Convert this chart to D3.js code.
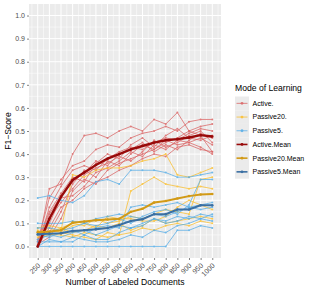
<!DOCTYPE html>
<html>
<head>
<meta charset="utf-8">
<script src="https://cdn.jsdelivr.net/npm/d3@7"></script>
<style>
  body { margin: 0; background: #fff; }
  text { font-family: "Liberation Sans", Arial, sans-serif; }
</style>
</head>
<body>
<div id="chart"></div>
<script>
// data
var docs = [250, 300, 350, 400, 450, 500, 550, 600, 650, 700, 750, 800, 850, 900, 950, 1000];
var yTicks = [0.0, 0.1, 0.2, 0.3, 0.4, 0.5, 0.6, 0.7, 0.8, 0.9, 1.0];
var modes = ["Active.", "Passive20.", "Passive5.", "Active.Mean", "Passive20.Mean", "Passive5.Mean"];

var activeRuns = [
  [0.00,0.25,0.27,0.40,0.48,0.49,0.47,0.50,0.52,0.50,0.55,0.53,0.58,0.50,0.52,0.53],
  [0.02,0.21,0.29,0.35,0.37,0.42,0.44,0.43,0.47,0.49,0.50,0.52,0.50,0.54,0.55,0.55],
  [0.00,0.17,0.26,0.33,0.35,0.33,0.38,0.41,0.43,0.42,0.45,0.47,0.46,0.49,0.51,0.50],
  [0.03,0.15,0.23,0.30,0.28,0.36,0.40,0.38,0.44,0.47,0.43,0.48,0.51,0.47,0.46,0.48],
  [0.00,0.12,0.19,0.25,0.31,0.34,0.36,0.39,0.37,0.41,0.46,0.43,0.45,0.48,0.50,0.45],
  [0.05,0.06,0.15,0.27,0.33,0.30,0.37,0.35,0.40,0.44,0.42,0.45,0.47,0.50,0.48,0.41],
  [0.00,0.10,0.21,0.22,0.26,0.32,0.34,0.37,0.41,0.39,0.44,0.42,0.46,0.45,0.43,0.40],
  [0.01,0.04,0.12,0.24,0.29,0.27,0.33,0.36,0.38,0.40,0.42,0.46,0.44,0.45,0.47,0.44],
  [0.00,0.08,0.17,0.20,0.25,0.28,0.30,0.33,0.35,0.38,0.40,0.39,0.43,0.44,0.42,0.41],
  [0.02,0.14,0.22,0.28,0.32,0.37,0.35,0.40,0.42,0.45,0.41,0.44,0.42,0.46,0.49,0.47]
];
var passive20Runs = [
  [0.06,0.06,0.07,0.31,0.30,0.33,0.34,0.34,0.35,0.37,0.38,0.40,0.31,0.30,0.32,0.34],
  [0.04,0.05,0.05,0.04,0.06,0.05,0.04,0.05,0.24,0.27,0.30,0.27,0.26,0.25,0.26,0.25],
  [0.08,0.09,0.08,0.10,0.09,0.12,0.10,0.11,0.13,0.12,0.14,0.16,0.15,0.14,0.29,0.30],
  [0.07,0.05,0.06,0.09,0.10,0.08,0.13,0.12,0.12,0.11,0.11,0.13,0.17,0.20,0.18,0.16],
  [0.05,0.06,0.08,0.06,0.07,0.09,0.08,0.10,0.07,0.09,0.12,0.10,0.11,0.12,0.13,0.12],
  [0.06,0.08,0.06,0.05,0.04,0.03,0.06,0.05,0.06,0.08,0.07,0.09,0.10,0.09,0.11,0.10]
];
var passive5Runs = [
  [0.21,0.22,0.20,0.19,0.22,0.28,0.29,0.27,0.33,0.33,0.33,0.32,0.30,0.30,0.31,0.32],
  [0.00,0.00,0.00,0.00,0.00,0.00,0.00,0.00,0.00,0.00,0.00,0.00,0.07,0.07,0.09,0.08],
  [0.10,0.10,0.10,0.11,0.10,0.12,0.13,0.14,0.13,0.12,0.14,0.13,0.15,0.17,0.16,0.17],
  [0.02,0.02,0.02,0.02,0.05,0.03,0.03,0.06,0.08,0.09,0.12,0.11,0.13,0.12,0.14,0.13],
  [0.05,0.04,0.06,0.07,0.05,0.08,0.09,0.08,0.17,0.18,0.17,0.18,0.19,0.17,0.18,0.19],
  [0.08,0.08,0.07,0.08,0.10,0.09,0.10,0.12,0.10,0.13,0.15,0.16,0.14,0.18,0.29,0.29],
  [0.00,0.03,0.02,0.04,0.03,0.02,0.02,0.03,0.05,0.04,0.07,0.06,0.09,0.10,0.12,0.11],
  [0.03,0.05,0.04,0.06,0.07,0.05,0.07,0.09,0.08,0.10,0.12,0.10,0.11,0.13,0.12,0.14]
];
var activeMean    = [0.00,0.12,0.215,0.288,0.32,0.353,0.38,0.40,0.42,0.435,0.45,0.46,0.465,0.472,0.482,0.476];
var passive20Mean = [0.062,0.065,0.07,0.103,0.108,0.113,0.117,0.12,0.15,0.163,0.19,0.197,0.208,0.218,0.225,0.227];
var passive5Mean  = [0.053,0.055,0.057,0.067,0.07,0.074,0.08,0.093,0.11,0.118,0.14,0.14,0.16,0.16,0.178,0.178];

var colors = {
  "Active.": "#db6767",
  "Passive20.": "#fbc030",
  "Passive5.": "#58aee6",
  "Active.Mean": "#980a0a",
  "Passive20.Mean": "#d29a16",
  "Passive5.Mean": "#3a6fa3"
};

var width = 314, height = 291;
var panel = {left: 29, right: 221, top: 4, bottom: 258};

var svg = d3.select("#chart").append("svg")
    .attr("width", width)
    .attr("height", height);

var x = d3.scaleLinear().domain([212.5, 1037.5]).range([panel.left, panel.right]);
var y = d3.scaleLinear().domain([-0.05, 1.05]).range([panel.bottom, panel.top]);

// panel + grid
svg.append("rect")
    .attr("x", panel.left).attr("y", panel.top)
    .attr("width", panel.right - panel.left)
    .attr("height", panel.bottom - panel.top)
    .attr("fill", "#ebebeb");

var xMinor = d3.range(225, 1037.5, 50);
var yMinor = d3.range(0.05, 1.05, 0.1);

var grid = svg.append("g");
grid.selectAll("line.xminor").data(xMinor).join("line")
    .attr("x1", d => x(d)).attr("x2", d => x(d))
    .attr("y1", panel.top).attr("y2", panel.bottom)
    .attr("stroke", "#fff").attr("stroke-width", 0.5);
grid.selectAll("line.yminor").data(yMinor).join("line")
    .attr("y1", d => y(d)).attr("y2", d => y(d))
    .attr("x1", panel.left).attr("x2", panel.right)
    .attr("stroke", "#fff").attr("stroke-width", 0.5);
grid.selectAll("line.xmajor").data(docs).join("line")
    .attr("x1", d => x(d)).attr("x2", d => x(d))
    .attr("y1", panel.top).attr("y2", panel.bottom)
    .attr("stroke", "#fff").attr("stroke-width", 1);
grid.selectAll("line.ymajor").data(yTicks).join("line")
    .attr("y1", d => y(d)).attr("y2", d => y(d))
    .attr("x1", panel.left).attr("x2", panel.right)
    .attr("stroke", "#fff").attr("stroke-width", 1);

// series
var series = [];
activeRuns.forEach(r => series.push({mode: "Active.", values: r}));
passive20Runs.forEach(r => series.push({mode: "Passive20.", values: r}));
passive5Runs.forEach(r => series.push({mode: "Passive5.", values: r}));
series.push({mode: "Active.Mean", values: activeMean});
series.push({mode: "Passive20.Mean", values: passive20Mean});
series.push({mode: "Passive5.Mean", values: passive5Mean});

function isMean(m) { return m.indexOf("Mean") >= 0; }

var line = d3.line()
    .x((d, i) => x(docs[i]))
    .y(d => y(d));

var lines = svg.append("g");
series.forEach(s => {
  var g = lines.append("g")
      .attr("opacity", isMean(s.mode) ? 1 : 0.85);
  g.append("path")
      .attr("d", line(s.values))
      .attr("fill", "none")
      .attr("stroke", colors[s.mode])
      .attr("stroke-width", isMean(s.mode) ? (s.mode == "Active.Mean" ? 2.4 : 2) : 0.9);
  g.selectAll("circle").data(s.values).join("circle")
      .attr("cx", (d, i) => x(docs[i]))
      .attr("cy", d => y(d))
      .attr("r", isMean(s.mode) ? 1.3 : 1)
      .attr("fill", colors[s.mode]);
});

// axes
var yAxis = svg.append("g")
    .attr("transform", "translate(" + panel.left + ",0)")
    .call(d3.axisLeft(y).tickValues(yTicks).tickFormat(d3.format(".1f")).tickSize(2).tickPadding(2));
var xAxis = svg.append("g")
    .attr("transform", "translate(0," + panel.bottom + ")")
    .call(d3.axisBottom(x).tickValues(docs).tickSize(2).tickFormat(d3.format("d")));

[yAxis, xAxis].forEach(a => {
  a.select(".domain").remove();
  a.selectAll(".tick line").attr("stroke", "#333").attr("stroke-width", 0.6);
  a.selectAll("text").attr("fill", "#4d4d4d").style("font-size", "7px");
});

xAxis.selectAll("text")
    .attr("text-anchor", "end")
    .attr("dy", null)
    .attr("y", 0)
    .attr("transform", "translate(2.5,8) rotate(-45)");

svg.append("text")
    .attr("transform", "translate(11," + ((panel.top + panel.bottom) / 2) + ") rotate(-90)")
    .attr("text-anchor", "middle")
    .style("font-size", "8.6px")
    .attr("fill", "#000")
    .text("F1\u2212Score");

svg.append("text")
    .attr("x", (panel.left + panel.right) / 2)
    .attr("y", 285)
    .attr("text-anchor", "middle")
    .style("font-size", "8.6px")
    .attr("fill", "#000")
    .text("Number of Labeled Documents");

// legend
var legend = svg.append("g").attr("transform", "translate(235,0)");
legend.append("text")
    .attr("x", 0).attr("y", 91)
    .style("font-size", "8.6px")
    .text("Mode of Learning");

var keys = legend.selectAll("g.key").data(modes).join("g")
    .attr("transform", (d, i) => "translate(0," + (96.5 + i * 13.7) + ")");
keys.append("rect")
    .attr("width", 14).attr("height", 13.7)
    .attr("fill", "#ebebeb");
keys.append("line")
    .attr("x1", 1.5).attr("x2", 12.5)
    .attr("y1", 6.85).attr("y2", 6.85)
    .attr("stroke", d => colors[d])
    .attr("opacity", d => isMean(d) ? 1 : 0.85)
    .attr("stroke-width", d => isMean(d) ? 1.6 : 0.9);
keys.append("circle")
    .attr("cx", 7).attr("cy", 6.85)
    .attr("r", 1.4)
    .attr("opacity", d => isMean(d) ? 1 : 0.85)
    .attr("fill", d => colors[d]);
keys.append("text")
    .attr("x", 17.5).attr("y", 9.3)
    .style("font-size", "7px")
    .text(d => d);
</script>
</body>
</html>
